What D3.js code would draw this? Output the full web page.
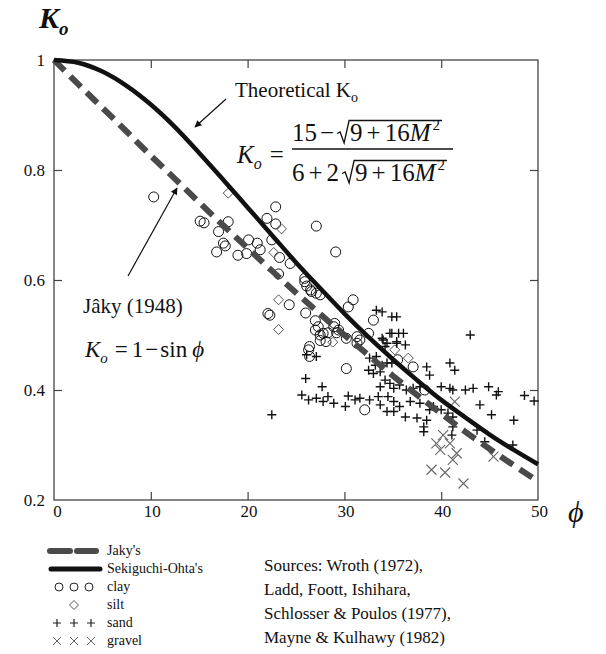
<!DOCTYPE html>
<html><head><meta charset="utf-8">
<script src="https://cdn.jsdelivr.net/npm/d3@7"></script>
<style>
body{margin:0;background:#fff}
svg{display:block}
svg text{font-family:'Liberation Serif','DejaVu Serif',serif;fill:#111}
</style>
</head><body>
<svg id="c" width="606" height="654" font-family="Liberation Serif, DejaVu Serif, serif"></svg>
<script>
// ---------------- data ----------------
const phiTicks = [0, 10, 20, 30, 40, 50];
const kTicks = [0.2, 0.4, 0.6, 0.8, 1];
const curvePhi = [0, 2.5, 5, 7.5, 10, 12.5, 15, 17.5, 20, 22.5, 25, 27.5, 30, 32.5, 35, 37.5, 40, 42.5, 45, 47.5, 50];
const jakyK = [1.000, 0.956, 0.913, 0.870, 0.826, 0.784, 0.741, 0.699, 0.658, 0.617, 0.577, 0.538, 0.500, 0.463, 0.426, 0.391, 0.357, 0.324, 0.293, 0.263, 0.234];
const sekiguchiK = [1.000, 0.995, 0.979, 0.953, 0.919, 0.878, 0.831, 0.782, 0.732, 0.682, 0.632, 0.585, 0.539, 0.496, 0.456, 0.418, 0.382, 0.350, 0.319, 0.291, 0.265];
const clay = [[10.3,0.751],[15.1,0.707],[15.5,0.704],[18.0,0.706],[17.0,0.688],[17.5,0.667],[17.7,0.662],[16.8,0.651],[19.0,0.645],[19.9,0.648],[20.1,0.673],[21.0,0.667],[21.3,0.655],[22.9,0.733],[22.0,0.712],[22.9,0.702],[22.5,0.673],[27.1,0.698],[29.1,0.651],[23.3,0.641],[24.4,0.630],[23.2,0.611],[25.9,0.603],[26.1,0.589],[26.5,0.582],[27.1,0.576],[24.3,0.555],[30.9,0.564],[30.4,0.551],[22.1,0.539],[22.3,0.536],[26.0,0.540],[27.0,0.526],[33.0,0.527],[27.0,0.509],[27.5,0.500],[28.3,0.504],[28.1,0.488],[29.2,0.504],[29.0,0.521],[26.4,0.479],[26.3,0.473],[26.4,0.461],[27.5,0.490],[30.2,0.494],[31.3,0.485],[30.2,0.439],[25.9,0.597],[26.6,0.579],[27.5,0.573],[27.3,0.515],[27.8,0.503],[28.9,0.515],[29.4,0.509],[31.3,0.497],[31.6,0.491],[32.5,0.503],[37.1,0.442],[32.1,0.364],[35.5,0.455],[38.3,0.400]];
const silt = [[18.0,0.758],[23.5,0.693],[22.7,0.650],[23.2,0.564],[23.2,0.510],[28.8,0.487],[35.2,0.473],[36.6,0.458]];
const sand = [[33.3,0.545],[33.9,0.542],[34.9,0.533],[35.4,0.533],[26.1,0.464],[27.1,0.461],[26.0,0.421],[27.7,0.406],[33.9,0.494],[34.9,0.503],[34.2,0.479],[35.4,0.485],[33.3,0.461],[34.4,0.449],[34.9,0.449],[34.7,0.503],[35.6,0.503],[36.1,0.503],[34.0,0.491],[34.4,0.485],[35.4,0.488],[36.3,0.482],[38.5,0.442],[38.8,0.427],[40.9,0.449],[41.4,0.436],[43.0,0.500],[25.6,0.391],[26.3,0.382],[27.1,0.385],[27.8,0.379],[28.3,0.388],[28.9,0.376],[30.1,0.370],[30.4,0.389],[31.1,0.382],[31.6,0.385],[32.6,0.382],[33.5,0.388],[33.7,0.373],[34.5,0.388],[35.1,0.379],[34.4,0.361],[35.1,0.361],[32.6,0.458],[33.2,0.445],[33.9,0.445],[32.5,0.436],[33.0,0.430],[33.7,0.433],[34.2,0.418],[34.7,0.412],[33.7,0.406],[35.1,0.403],[35.7,0.409],[36.4,0.400],[37.1,0.403],[37.8,0.406],[36.3,0.351],[37.5,0.349],[38.2,0.333],[38.2,0.324],[38.5,0.345],[38.8,0.364],[39.2,0.370],[37.8,0.376],[36.8,0.379],[35.7,0.370],[40.0,0.364],[40.7,0.358],[41.2,0.333],[41.1,0.318],[41.2,0.351],[40.0,0.406],[40.9,0.403],[41.2,0.400],[42.5,0.400],[43.3,0.403],[44.9,0.406],[45.9,0.397],[45.7,0.391],[44.0,0.373],[45.2,0.355],[43.7,0.327],[44.5,0.306],[48.6,0.390],[49.6,0.380],[47.5,0.345],[47.4,0.300],[22.5,0.355]];
const gravel = [[39.5,0.303],[40.2,0.318],[39.9,0.291],[40.9,0.303],[41.6,0.285],[41.2,0.273],[39.0,0.255],[40.4,0.250],[42.3,0.230],[45.4,0.279],[41.4,0.379]];
const legendLabels = ["Jaky's", "Sekiguchi-Ohta's", "clay", "silt", "sand", "gravel"];
const sourceLines = ["Sources: Wroth (1972),", "Ladd, Foott, Ishihara,", "Schlosser & Poulos (1977),", "Mayne & Kulhawy (1982)"];

// ---------------- layout ----------------
const FONT = "Liberation Serif, DejaVu Serif, serif";
const svg = d3.select("#c");
const L = 54, R = 538, T = 60, B = 500;
const x = d3.scaleLinear().domain([0, 50]).range([L, R]);
const y = d3.scaleLinear().domain([0.2, 1]).range([B, T]);

const fmtK = d => d === 1 ? "1" : d.toFixed(1);
const inner = [10, 20, 30, 40], innerK = [0.4, 0.6, 0.8];
const styleTicks = g => { g.select(".domain").remove(); g.selectAll("line").attr("stroke", "#444").attr("stroke-width", 1.2); };
svg.append("g").attr("transform", `translate(${L},0)`)
  .call(d3.axisLeft(y).tickValues(kTicks).tickFormat(fmtK).tickSizeInner(0).tickSizeOuter(0).tickPadding(9))
  .call(g => { g.attr("font-family", FONT); g.select(".domain").remove(); g.selectAll("text").attr("font-size", 17).attr("fill", "#222"); });
svg.append("g").attr("transform", `translate(${L},0)`)
  .call(d3.axisLeft(y).tickValues(innerK).tickFormat("").tickSizeInner(-8).tickSizeOuter(0)).call(styleTicks);
svg.append("g").attr("transform", `translate(${R},0)`)
  .call(d3.axisRight(y).tickValues(innerK).tickFormat("").tickSizeInner(-8).tickSizeOuter(0)).call(styleTicks);
svg.append("g").attr("transform", `translate(0,${B})`)
  .call(d3.axisBottom(x).tickValues(phiTicks).tickFormat(d3.format("d")).tickSizeInner(0).tickSizeOuter(0).tickPadding(5))
  .call(g => { g.attr("font-family", FONT); g.select(".domain").remove(); g.selectAll("text").attr("font-size", 17).attr("fill", "#222").attr("dx", d => d === 0 ? 3 : 1); });
svg.append("g").attr("transform", `translate(0,${B})`)
  .call(d3.axisBottom(x).tickValues(inner).tickFormat("").tickSizeInner(-8).tickSizeOuter(0)).call(styleTicks);
svg.append("g").attr("transform", `translate(0,${T})`)
  .call(d3.axisTop(x).tickValues(inner).tickFormat("").tickSizeInner(-8).tickSizeOuter(0)).call(styleTicks);
svg.append("rect").attr("x", L).attr("y", T).attr("width", R - L).attr("height", B - T)
  .attr("fill", "none").attr("stroke", "#444").attr("stroke-width", 1.3);

// markers
const plot = svg.append("g");
const cross = (s) => `M${-s},${-s}L${s},${s}M${-s},${s}L${s},${-s}`;
const plus = (s) => `M${-s},0H${s}M0,${-s}V${s}`;
const diamond = (s) => `M0,${-s}L${s},0L0,${s}L${-s},0Z`;

plot.selectAll(".clay").data(clay).join("circle")
  .attr("cx", d => x(d[0])).attr("cy", d => y(d[1])).attr("r", 5)
  .attr("fill", "none").attr("stroke", "#111").attr("stroke-width", 1);
plot.selectAll(".silt").data(silt).join("path")
  .attr("transform", d => `translate(${x(d[0])},${y(d[1])})`).attr("d", diamond(5))
  .attr("fill", "none").attr("stroke", "#555").attr("stroke-width", 1);
plot.selectAll(".sand").data(sand).join("path")
  .attr("transform", d => `translate(${x(d[0])},${y(d[1])})`).attr("d", plus(4.5))
  .attr("fill", "none").attr("stroke", "#111").attr("stroke-width", 1.4);
plot.selectAll(".gravel").data(gravel).join("path")
  .attr("transform", d => `translate(${x(d[0])},${y(d[1])})`).attr("d", cross(5))
  .attr("fill", "none").attr("stroke", "#666").attr("stroke-width", 1.1);

// curves
const line = (arr) => d3.line().x((d, i) => x(curvePhi[i])).y(d => y(d)).curve(d3.curveMonotoneX)(arr);
plot.append("path").attr("d", line(jakyK)).attr("fill", "none")
  .attr("stroke", "#4a4a4a").attr("stroke-width", 6).attr("stroke-dasharray", "15,8");
plot.append("path").attr("d", line(sekiguchiK)).attr("fill", "none")
  .attr("stroke", "#111").attr("stroke-width", 4.5);

// ---------------- annotations ----------------
function runs(g, x0, yb, parts) {
  let cx = x0; const pos = [];
  parts.forEach(p => {
    cx += (p.gap || 0);
    const t = g.append("text").attr("x", cx).attr("y", yb + (p.dy || 0)).attr("font-family", FONT)
      .attr("font-size", p.size).attr("font-style", p.italic ? "italic" : "normal")
      .attr("font-weight", p.bold ? "bold" : "normal").text(p.t);
    const w = p.t ? t.node().getComputedTextLength() : 0;
    pos.push([cx, cx + w]); cx += w;
  });
  return pos;
}
function radical(g, x0, yb, size, width) {
  const top = yb - size * 0.82;
  g.append("path").attr("d", `M${x0},${yb - size*0.3}L${x0+3},${yb - size*0.36}L${x0+7},${yb+2}L${x0+12},${top}H${x0+12+width}`)
    .attr("fill", "none").attr("stroke", "#111").attr("stroke-width", 1.3);
}
const ann = svg.append("g");

runs(ann, 39, 28, [{t: "K", size: 30, italic: true, bold: true}, {t: "o", size: 19, italic: true, bold: true, dy: 7, gap: 0}]);
ann.append("text").attr("x", 568).attr("y", 522).attr("font-family", FONT).attr("font-size", 30).attr("font-style", "italic").text("ϕ");

runs(ann, 235, 97, [{t: "Theoretical K", size: 21}, {t: "o", size: 14, dy: 5}]);
runs(ann, 237, 163, [{t: "K", size: 25, italic: true}, {t: "o", size: 16, italic: true, dy: 6}, {t: "=", size: 25, gap: 8}]);
function sqrtExpr(x0, yb, lead) {
  const p1 = runs(ann, x0, yb, lead);
  const rx = p1[p1.length - 1][1] + 3;
  const p2 = runs(ann, rx + 13, yb, [{t: "9", size: 25}, {t: "+", size: 25, gap: 4}, {t: "16", size: 25, gap: 4}, {t: "M", size: 25, italic: true}, {t: "2", size: 15, dy: -11, gap: 2}]);
  radical(ann, rx, yb, 25, p2[p2.length - 1][1] - rx - 10);
}
sqrtExpr(292, 141, [{t: "15", size: 25}, {t: "−", size: 25, gap: 3}]);
sqrtExpr(292, 181, [{t: "6", size: 25}, {t: "+", size: 25, gap: 4}, {t: "2", size: 25, gap: 4}]);
ann.append("line").attr("x1", 292).attr("x2", 453).attr("y1", 149).attr("y2", 149).attr("stroke", "#111").attr("stroke-width", 1.5);

runs(ann, 83, 313, [{t: "Jâky (1948)", size: 21}]);
runs(ann, 85, 357, [{t: "K", size: 23, italic: true}, {t: "o", size: 15, italic: true, dy: 6}, {t: "=", size: 23, gap: 7}, {t: "1", size: 23, gap: 4}, {t: "−", size: 23, gap: 2}, {t: "sin", size: 23, gap: 2}, {t: "ϕ", size: 23, italic: true, gap: 5}]);

const defs = svg.append("defs");
defs.append("marker").attr("id", "ah").attr("viewBox", "0 0 10 10").attr("refX", 9).attr("refY", 5)
  .attr("markerWidth", 9).attr("markerHeight", 7).attr("markerUnits", "userSpaceOnUse").attr("orient", "auto")
  .append("path").attr("d", "M0,0L10,5L0,10Z").attr("fill", "#111");
ann.append("line").attr("x1", 226).attr("y1", 99).attr("x2", 195).attr("y2", 127)
  .attr("stroke", "#111").attr("stroke-width", 1.2).attr("marker-end", "url(#ah)");
ann.append("line").attr("x1", 128).attr("y1", 276).attr("x2", 177).attr("y2", 188)
  .attr("stroke", "#111").attr("stroke-width", 1.2).attr("marker-end", "url(#ah)");

// ---------------- legend ----------------
const lg = svg.append("g").attr("font-family", FONT);
const rowY = [551, 569, 587, 605, 623, 641];
lg.append("line").attr("x1", 50).attr("x2", 70).attr("y1", rowY[0]).attr("y2", rowY[0]).attr("stroke", "#4a4a4a").attr("stroke-width", 6).attr("stroke-linecap", "round");
lg.append("line").attr("x1", 77).attr("x2", 96).attr("y1", rowY[0]).attr("y2", rowY[0]).attr("stroke", "#4a4a4a").attr("stroke-width", 6).attr("stroke-linecap", "round");
lg.append("line").attr("x1", 51).attr("x2", 100).attr("y1", rowY[1]).attr("y2", rowY[1]).attr("stroke", "#111").attr("stroke-width", 5).attr("stroke-linecap", "round");
[59, 74, 89].forEach(cx => lg.append("circle").attr("cx", cx).attr("cy", rowY[2]).attr("r", 4).attr("fill", "none").attr("stroke", "#222"));
lg.append("path").attr("transform", `translate(74,${rowY[3]})`).attr("d", diamond(4.5)).attr("fill", "none").attr("stroke", "#555");
[57, 74, 91].forEach(cx => lg.append("path").attr("transform", `translate(${cx},${rowY[4]})`).attr("d", plus(4)).attr("stroke", "#222").attr("stroke-width", 1.2));
[57, 74, 91].forEach(cx => lg.append("path").attr("transform", `translate(${cx},${rowY[5]})`).attr("d", cross(4)).attr("stroke", "#666").attr("stroke-width", 1));
lg.selectAll(".lt").data(legendLabels).join("text")
  .attr("x", 107).attr("y", (d, i) => rowY[i] + 4).attr("font-size", 14).text(d => d);

svg.append("g").attr("font-family", FONT).selectAll("text").data(sourceLines).join("text")
  .attr("x", 264).attr("y", (d, i) => 571 + i * 24).attr("font-size", 17).text(d => d);
</script>
</body></html>
